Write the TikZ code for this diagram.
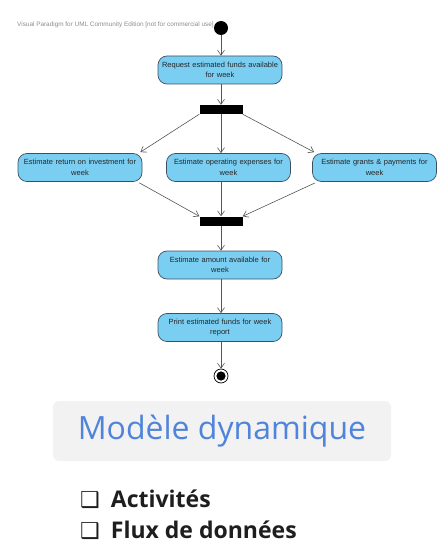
\documentclass[tikz,border=0pt]{standalone}
\usepackage{fontspec}
\setmainfont{Liberation Sans}
\newfontfamily\titlefont{Open Sans}
\newfontfamily\bulletfont{Open Sans}
\newfontfamily\symfont{DejaVu Sans}
\usetikzlibrary{arrows.meta}
\definecolor{actfill}{RGB}{122,206,242}
\definecolor{actdraw}{RGB}{60,80,100}
\definecolor{flow}{RGB}{85,85,85}
\definecolor{titlebg}{RGB}{242,242,242}
\definecolor{titleblue}{RGB}{80,132,218}
\definecolor{bullettext}{RGB}{30,30,30}
\begin{document}
\begin{tikzpicture}[x=1pt,y=-1pt,
  act/.style={draw=actdraw,fill=actfill,rounded corners=9pt,line width=0.7pt,
    minimum width=124pt,minimum height=28pt,inner sep=1pt,align=center,
    text width=118pt,font=\fontsize{7.5}{10.5}\selectfont,text=black!85},
  bar/.style={fill=black,minimum width=43pt,minimum height=9pt,inner sep=0pt},
  flowline/.style={draw=flow,line width=0.6pt,-{Straight Barb[length=5pt,width=7pt]}}]
\useasboundingbox (0,0) rectangle (441,556);
% watermark
\node[anchor=west,font=\fontsize{6.4}{7}\selectfont,text=black!45,inner sep=0pt] (wm) at (17,25) {Visual Paradigm for UML Community Edition [not for commercial use]};
% nodes
\node[circle,fill=black,minimum size=14pt,inner sep=0pt] (init) at (221,28) {};
\node[act] (req) at (220,70) {Request estimated funds available\\for week};
\node[bar] (fork) at (221,109.5) {};
\node[act] (roi) at (80,167.5) {Estimate return on investment for\\week};
\node[act] (ope) at (228.5,167.5) {Estimate operating expenses for\\week};
\node[act] (gra) at (374.5,167.5) {Estimate grants \& payments for\\week};
\node[bar] (join) at (221,221) {};
\node[act] (amt) at (220,265) {Estimate amount available for\\week};
\node[act] (prt) at (220,327.5) {Print estimated funds for week\\report};
\node[circle,draw=black,line width=0.7pt,minimum size=14pt,inner sep=0pt] (fin) at (221,376) {};
\fill[black] (fin.center) circle (4.6pt);
% connectors
\draw[flowline] (init) -- (req.north -| init);
\draw[flowline] (req.south -| fork) -- (fork.north);
\draw[flowline] (fork.south west) -- ([xshift=-2pt,yshift=1pt]roi.north east);
\draw[flowline] (fork.south) -- (fork.south |- ope.north);
\draw[flowline] (fork.south east) -- ([xshift=2pt,yshift=1pt]gra.north west);
\draw[flowline] ([xshift=-3pt,yshift=-1pt]roi.south east) -- (join.north west);
\draw[flowline] (join.north |- ope.south) -- (join.north);
\draw[flowline] ([xshift=3pt,yshift=-1pt]gra.south west) -- (join.north east);
\draw[flowline] (join.south) -- (join.south |- amt.north);
\draw[flowline] (amt.south -| join) -- (join |- prt.north);
\draw[flowline] (prt.south -| fin) -- (fin.north);
% title box
\node[fill=titlebg,rounded corners=6pt,minimum width=338pt,minimum height=60pt,inner sep=0pt] (tbox) at (222,431) {};
\node[font=\titlefont\fontsize{32}{36}\selectfont,text=titleblue,inner sep=0pt] (title) at (222,431) {Modèle dynamique};
% bullets
\node[anchor=base west,inner sep=0pt,font=\bulletfont\bfseries\fontsize{23}{26}\selectfont,text=bullettext] (b1) at (80,507) {{\symfont\fontsize{22}{24}\selectfont ❑}\hspace{11pt}Activités};
\node[anchor=base west,inner sep=0pt,font=\bulletfont\bfseries\fontsize{23}{26}\selectfont,text=bullettext] (b2) at (80,538) {{\symfont\fontsize{22}{24}\selectfont ❑}\hspace{11pt}Flux de données};
\end{tikzpicture}
\end{document}
